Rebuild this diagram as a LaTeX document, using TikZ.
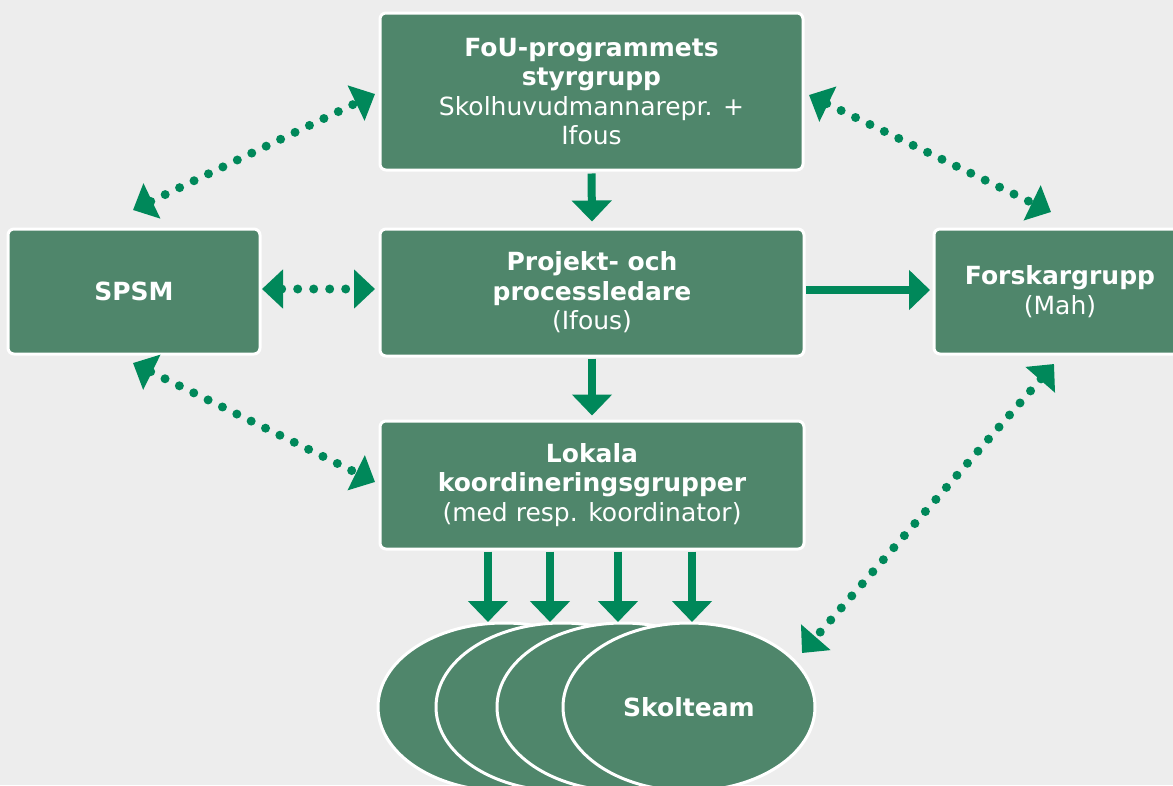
\documentclass[tikz,border=0pt]{standalone}
\usepackage{fontspec}
\setmainfont{DejaVu Sans}
\usetikzlibrary{arrows.meta,shapes.geometric}
\definecolor{bg}{HTML}{EDEDED}
\definecolor{boxg}{HTML}{4F866B}
\definecolor{arrg}{HTML}{00885A}
\begin{document}
\begin{tikzpicture}[x=1pt,y=-1pt,
  box/.style={rectangle, rounded corners=6pt, fill=boxg, draw=white, line width=3pt,
    text=white, align=center, inner sep=0pt, font=\fontsize{25}{29.5}\selectfont},
  ell/.style={ellipse, fill=boxg, draw=white, line width=3pt, minimum width=252pt,
    minimum height=168pt, inner sep=0pt, text=white, font=\fontsize{25}{29.5}\selectfont\bfseries},
  solidarrow/.style={draw=arrg, line width=8pt, -{Triangle[length=21pt,width=39pt]}},
  dotarrow/.style={draw=arrg, line width=9pt, line cap=round, dash pattern=on 0pt off 16pt,
    {Triangle[length=21pt,width=38pt]}-{Triangle[length=21pt,width=38pt]}}
]
\useasboundingbox (0,0) rectangle (1173,785);
\clip (0,0) rectangle (1173,785);
\fill[bg] (0,0) rectangle (1173,785);

% boxes
\node[box, minimum width=423pt, minimum height=157pt] (top) at (591.5,91.5)
  {\textbf{FoU-programmets}\\\textbf{styrgrupp}\\Skolhuvudmannarepr. +\\Ifous};
\node[box, minimum width=424pt, minimum height=127pt] (mid) at (592,292.5)
  {\textbf{Projekt- och}\\\textbf{processledare}\\(Ifous)};
\node[box, minimum width=424pt, minimum height=128pt] (lok) at (592,485)
  {\textbf{Lokala}\\\textbf{koordineringsgrupper}\\(med resp. koordinator)};
\node[box, minimum width=252pt, minimum height=125pt] (spsm) at (134,291.5)
  {\textbf{SPSM}};
\node[box, minimum width=252pt, minimum height=125pt] (fors) at (1060,291.5)
  {\textbf{Forskargrupp}\\(Mah)};

% ellipses
\node[ell] (e1) at (504,707) {};
\node[ell] (e2) at (562,707) {};
\node[ell] (e3) at (623,707) {};
\node[ell] (e4) at (689,707) {Skolteam};

% solid arrows
\draw[solidarrow] ([yshift=-2pt]top.south) -- ([yshift=6pt]mid.north);
\draw[solidarrow] ([yshift=-1pt]mid.south) -- ([yshift=4pt]lok.north);
\coordinate (h0) at (806,290);
\coordinate (h1) at (930,290);
\draw[solidarrow] (h0) -- (h1);
\coordinate (t1) at (488,622);
\coordinate (t2) at (550,622);
\coordinate (t3) at (618,622);
\coordinate (t4) at (692,622);
\foreach \t in {t1,t2,t3,t4}
  \draw[solidarrow] ([yshift=-1pt]lok.south -| \t) -- (\t);

% dotted double arrows
\coordinate (d1a) at (133,210); \coordinate (d1b) at (375,94);
\coordinate (d2a) at (262,289); \coordinate (d2b) at (375,289);
\coordinate (d3a) at (133,363); \coordinate (d3b) at (375,482);
\coordinate (d4a) at (809,95);  \coordinate (d4b) at (1051,212);
\coordinate (d5a) at (1054,364); \coordinate (d5b) at (802,653);
\draw[dotarrow] (d1a) -- (d1b);
\draw[dotarrow] (d2a) -- (d2b);
\draw[dotarrow] (d3a) -- (d3b);
\draw[dotarrow] (d4a) -- (d4b);
\draw[dotarrow] (d5a) -- (d5b);
\end{tikzpicture}
\end{document}
